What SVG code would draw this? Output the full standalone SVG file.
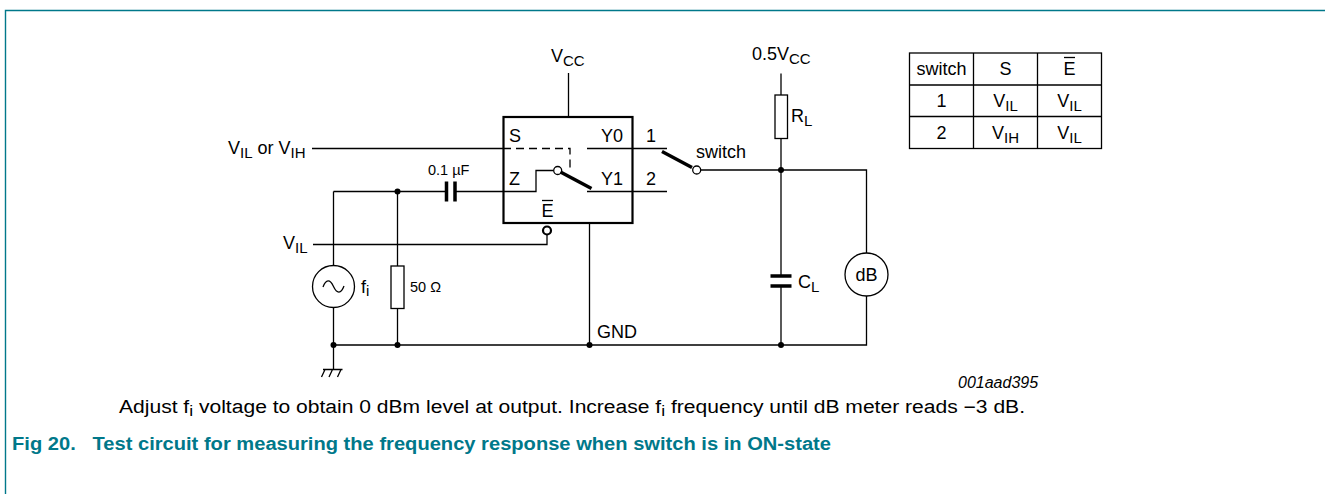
<svg xmlns="http://www.w3.org/2000/svg" width="1325" height="494" viewBox="0 0 1325 494">
<style>
text{font-family:"Liberation Sans",Arial,sans-serif;fill:#000}
.l{font-size:18px}
.s{font-size:15px}
.sm{font-size:14.5px}
.w{fill:none;stroke:#000;stroke-width:1.3}
.th{fill:none;stroke:#000;stroke-width:2.2}
.bl{fill:none;stroke:#000;stroke-width:3.5}
.mid{text-anchor:middle}
.cap1{font-size:18px}
.cap2{font-size:18px;font-weight:bold;fill:#00788a}
</style>
<defs>
<circle id="dot" r="3" fill="#000"/>
</defs>
<g id="frame">
<path d="M5.5,494 V10.5 H1325" fill="none" stroke="#00788a" stroke-width="1.4"/>
</g>
<g id="connectors">
<path class="w" d="M568.5,73 V116.5"/>
<path class="w" d="M312,148.5 H503"/>
<path class="w" d="M503,148.5 H570 V168" stroke-dasharray="8 5"/>
<path class="w" d="M587,148.5 H667"/>
<path class="w" d="M587,191.5 H667"/>
<path class="w" d="M333.5,191.5 H446"/>
<path class="w" d="M455,191.5 H536 V170.5 H553.5"/>
<path class="w" d="M333.5,191.5 V265.5"/>
<path class="w" d="M333.5,307.5 V369.5"/>
<path class="w" d="M397.5,191.5 V266"/>
<path class="w" d="M397.5,308.5 V345"/>
<path class="w" d="M313,244.5 H547 V234.5"/>
<path class="w" d="M589.5,223 V345"/>
<path class="w" d="M333.5,345 H866.5 V296"/>
<path class="w" d="M700.5,170 H866.5 V253"/>
<path class="w" d="M781,73.5 V95"/>
<path class="w" d="M781,138.5 V276"/>
<path class="w" d="M781,286 V345"/>
<use href="#dot" x="397.5" y="191.5"/>
<use href="#dot" x="333.5" y="345"/>
<use href="#dot" x="397.5" y="345"/>
<use href="#dot" x="589.5" y="345"/>
<use href="#dot" x="781" y="345"/>
<use href="#dot" x="781" y="170"/>
</g>
<g id="chip">
<rect class="th" x="503.5" y="117" width="129" height="106"/>
<text class="l" x="509" y="142">S</text>
<text class="l" x="601" y="142">Y0</text>
<text class="l" x="509" y="185">Z</text>
<text class="l" x="601" y="185">Y1</text>
<text class="l mid" x="547.5" y="217">E</text>
<path class="w" d="M542,200.5 H553"/>
<circle cx="557.7" cy="170.5" r="4" fill="#fff" stroke="#000" stroke-width="1.3"/>
<path class="bl" d="M560.5,172 L591.5,188.5" stroke-width="3"/>
<circle cx="547" cy="230.5" r="4" fill="#fff" stroke="#000" stroke-width="2.2"/>
</g>
<g id="ext-switch">
<path class="bl" d="M662,151.5 L692,167.5" stroke-width="3"/>
<circle cx="696.7" cy="170" r="4" fill="#fff" stroke="#000" stroke-width="1.3"/>
<text class="l" x="646" y="142">1</text>
<text class="l" x="646" y="185">2</text>
<text class="l" x="696" y="158">switch</text>
</g>
<g id="cap-in">
<path class="bl" d="M446.5,181.5 V201.5 M455,181.5 V201.5"/>
<text class="sm" x="428" y="175">0.1 µF</text>
</g>
<g id="source">
<circle class="w" cx="333.5" cy="286.5" r="21"/>
<path class="w" d="M323,287 C326,279 330,279 333.5,286.5 C337,294 341,294 344,286"/>
<text class="l" x="361" y="293">f<tspan class="s" dy="3">i</tspan></text>
</g>
<g id="r50">
<rect class="w" x="391" y="266" width="13" height="42.5"/>
<text class="sm" x="410" y="292">50 Ω</text>
</g>
<g id="ground">
<path class="w" d="M323,369.5 H342.5 M325,369.5 L321.5,377 M332.5,369.5 L329,377 M341,369.5 L337.5,377"/>
</g>
<g id="rl">
<rect class="w" x="775" y="95" width="12.5" height="43.5"/>
<text class="l" x="791" y="122">R<tspan class="s" dy="4">L</tspan></text>
</g>
<g id="cl">
<path class="bl" d="M770.5,276 H791.5 M770.5,286 H791.5"/>
<text class="l" x="798" y="288">C<tspan class="s" dy="4">L</tspan></text>
</g>
<g id="meter">
<circle class="w" cx="866.5" cy="274.5" r="21.5"/>
<text class="l mid" x="866.5" y="281">dB</text>
</g>
<g id="labels">
<text class="l" x="551" y="62">V<tspan class="s" dy="4">CC</tspan></text>
<text class="l" x="752" y="60">0.5V<tspan class="s" dy="4">CC</tspan></text>
<text class="l" x="228" y="154">V<tspan class="s" dy="4">IL</tspan><tspan dy="-4"> or V</tspan><tspan class="s" dy="4">IH</tspan></text>
<text class="l" x="283" y="249">V<tspan class="s" dy="4">IL</tspan></text>
<text class="l" x="597" y="338">GND</text>
<text x="958" y="388" font-size="16" font-style="italic">001aad395</text>
</g>
<g id="table">
<rect class="w" x="909.5" y="53" width="192" height="95.5"/>
<path class="w" d="M973.5,53 V148.5 M1037.5,53 V148.5 M909.5,85 H1101.5 M909.5,116.5 H1101.5"/>
<text class="l mid" x="941.5" y="75">switch</text>
<text class="l mid" x="1005.5" y="75">S</text>
<text class="l mid" x="1069.5" y="75">E</text>
<path class="w" d="M1064,57.5 H1075"/>
<text class="l mid" x="941.5" y="107">1</text>
<text class="l mid" x="1005.5" y="107">V<tspan class="s" dy="4">IL</tspan></text>
<text class="l mid" x="1069.5" y="107">V<tspan class="s" dy="4">IL</tspan></text>
<text class="l mid" x="941.5" y="138.5">2</text>
<text class="l mid" x="1005.5" y="138.5">V<tspan class="s" dy="4">IH</tspan></text>
<text class="l mid" x="1069.5" y="138.5">V<tspan class="s" dy="4">IL</tspan></text>
</g>
<g id="caption">
<text class="cap1" x="119" y="413" textLength="906" lengthAdjust="spacingAndGlyphs">Adjust f<tspan class="s" dy="3">i</tspan><tspan dy="-3"> voltage to obtain 0 dBm level at output. Increase f</tspan><tspan class="s" dy="3">i</tspan><tspan dy="-3"> frequency until dB meter reads −3 dB.</tspan></text>
<text class="cap2" x="12" y="450" xml:space="preserve" textLength="819" lengthAdjust="spacingAndGlyphs">Fig 20.   Test circuit for measuring the frequency response when switch is in ON-state</text>
</g>
</svg>
